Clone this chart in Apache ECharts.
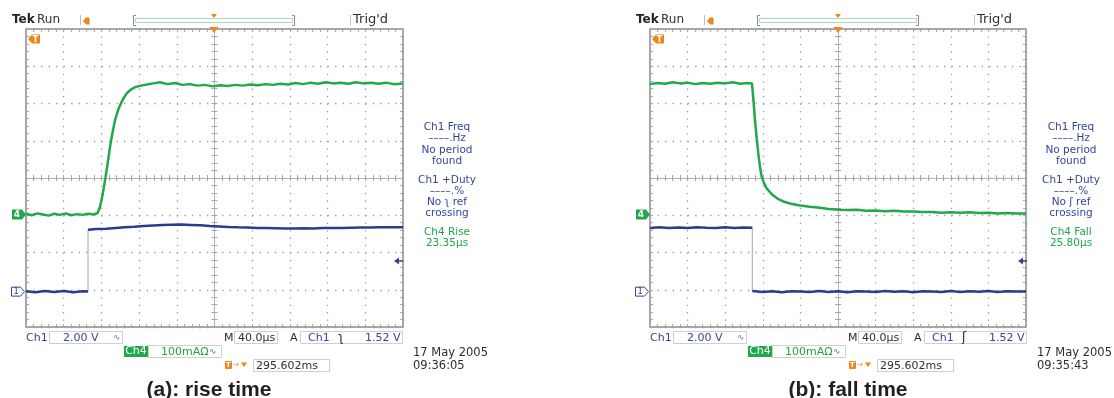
<!DOCTYPE html>
<html>
<head>
<meta charset="utf-8">
<script src="https://cdn.jsdelivr.net/npm/echarts@6/dist/echarts.min.js"></script>
<style>
html,body{margin:0;padding:0;background:#ffffff;}
#chart{width:1114px;height:398px;}
</style>
</head>
<body>
<div id="chart"></div>
<script>
// ---------- scope settings ----------
const timeRangeUs = [-200, 200];      // 40 µs/div, 10 divisions, trigger at centre
const timeDivUs = 40;
const vertRangeDiv = [-4, 4];         // 8 vertical divisions
const ch1VoltsPerDiv = 2.0;           // Ch1 2.00 V
const ch4mAPerDiv = 100;              // Ch4 100 mA
const ch1ZeroDiv = -3.05;             // position of the "1" ground marker
const ch4ZeroDiv = -0.98;             // position of the "4" ground marker

// ---------- (a) rise time ----------
const riseCh4TimeUs = [-200,-194,-188,-182,-176,-170,-164,-158,-152,-146,-140,-134,-128,
  -124,-121.5,-118.8,-116.2,-113.5,-110.9,-108.2,-105.6,-103,-100.3,-97,-93.2,-89,-84.3,-78,-71.9,-65,-57.8,
  -50,-42,-34,-26,-18,-10,-2,6,14,22,30,38,46,54,62,70,78,86,94,102,110,118,126,134,142,150,158,166,174,182,190,200];
const riseCh4mA = [2,-2,3,0,-3,2,-1,3,-2,1,-1,2,0,
  4,20,52,91,135,181,220,252,275,293,310,325,335,342,346,349,352,355,
  350,353,348,350,346,348,344,347,345,348,346,349,347,350,348,351,349,353,350,354,351,355,352,354,351,355,352,354,351,354,350,352];
const riseCh1TimeUs = [-200,-190,-180,-170,-160,-150,-140,-134.2,
  -134.2,-125,-115,-105,-95,-85,-75,-65,-55,-45,-35,-25,-15,-5,
  5,15,25,35,45,55,65,75,85,95,105,115,125,135,145,155,165,175,185,200];
const riseCh1V = [0.02,-0.03,0.03,-0.02,0.03,-0.03,0.02,0,
  3.32,3.36,3.38,3.42,3.46,3.48,3.52,3.55,3.57,3.59,3.6,3.58,3.56,3.52,
  3.5,3.47,3.45,3.44,3.42,3.41,3.4,3.39,3.39,3.4,3.39,3.41,3.42,3.42,3.43,3.44,3.44,3.45,3.45,3.46];

// ---------- (b) fall time ----------
const fallCh4TimeUs = [-200,-192,-184,-176,-168,-160,-152,-144,-136,-128,-120,-112,-104,-96,-91.5,
  -89.9,-88.3,-86.5,-84.8,-83,-81.2,-78.5,-75.9,-72,-68.8,-64,-58.2,-50,-40.4,-30,-19.1,-10,2.1,
  10,20,30,40,50,60,70,80,90,100,110,120,130,140,150,160,170,180,190,200];
const fallCh4mA = [350,353,351,355,352,354,350,353,351,354,352,355,351,353,352,
  305,252,205,164,128,101,83,70,59,51,42,35,29,24,21,18,15,13,
  12,13,10,11,9,10,8,8,7,7,5,6,5,6,4,5,3,4,3,3];
const fallCh1TimeUs = [-200,-190,-180,-170,-160,-150,-140,-130,-120,-110,-100,-91.2,
  -91.2,-80,-70,-60,-50,-40,-30,-20,-10,0,10,20,30,40,50,60,70,80,90,100,110,120,130,140,150,160,170,180,190,200];
const fallCh1V = [3.42,3.45,3.41,3.44,3.42,3.46,3.43,3.41,3.45,3.42,3.44,3.43,
  0.03,-0.02,0.02,-0.03,0.02,0,-0.02,0.03,-0.02,0.02,-0.03,0.02,0,-0.02,0.03,-0.01,0.02,-0.03,0.02,0,
  -0.02,0.03,-0.02,0.02,-0.01,0.03,-0.02,0.02,0,0.01];

// ---------- texts ----------
const panels = [
  { caption: '(a): rise time', captionX: 209, measName: 'Ch4 Rise', measValue: '23.35µs', edgeGlyph: 'ʅ',
    date: '17 May 2005', time: '09:36:05',
    ch4: [riseCh4TimeUs, riseCh4mA], ch1: [riseCh1TimeUs, riseCh1V] },
  { caption: '(b): fall time', captionX: 848, measName: 'Ch4 Fall', measValue: '25.80µs', edgeGlyph: 'ʃ',
    date: '17 May 2005', time: '09:35:43',
    ch4: [fallCh4TimeUs, fallCh4mA], ch1: [fallCh1TimeUs, fallCh1V] }
];
const ch1Scale = '2.00 V', ch4Scale = '100mAΩ', timeScale = '40.0µs', trigLevel = '1.52 V', trigPos = '295.602ms';

// ---------- styles ----------
const GREEN = '#22a84c', BLUE = '#2b3b8f', EDGE_BLUE = '#9aa3d4';
const TXT_BLUE = '#34449c', TXT_GREEN = '#1ea649', ORANGE = '#f0851d', DARK = '#2e2e2e';
const DOT = '#9a9a9a', TICK = '#a8a8a8', CROSS = '#b4b4b4';
const GRIDS = [
  { left: 26, top: 29, width: 377, height: 298 },
  { left: 650, top: 29, width: 376, height: 298 }
];
const PANEL_DX = [0, 624];

const chart = echarts.init(document.getElementById('chart'), null, { renderer: 'canvas' });

function segments(times, vals, zeroDiv, perDiv) {
  const segs = [[]], edges = [];
  for (let i = 0; i < times.length; i++) {
    const y = zeroDiv + vals[i] / perDiv;
    if (i > 0 && times[i] === times[i - 1]) {
      edges.push([[times[i - 1], zeroDiv + vals[i - 1] / perDiv], [times[i], y]]);
      segs.push([]);
    }
    segs[segs.length - 1].push([times[i], y]);
  }
  return { segs, edges };
}

const xAxes = [], yAxes = [], grids = [], series = [];
for (let g = 0; g < 2; g++) {
  grids.push(Object.assign({ show: true, borderColor: '#8c8c8c', borderWidth: 1.5,
    backgroundColor: 'transparent', containLabel: false, outerBoundsMode: 'none' }, GRIDS[g]));
  const tick = { show: true, inside: true, length: 3, lineStyle: { color: TICK, width: 1 } };
  const minor = { show: true, splitNumber: 5, length: 3, lineStyle: { color: TICK, width: 1 } };
  const xb = { gridIndex: g, type: 'value', min: timeRangeUs[0], max: timeRangeUs[1], interval: timeDivUs,
    axisLabel: { show: false }, splitLine: { show: false }, axisTick: tick, minorTick: minor, silent: true };
  const yb = { gridIndex: g, type: 'value', min: vertRangeDiv[0], max: vertRangeDiv[1], interval: 1,
    axisLabel: { show: false }, splitLine: { show: false }, axisTick: tick, minorTick: minor, silent: true };
  xAxes.push(Object.assign({}, xb, { position: 'bottom', axisLine: { show: false, onZero: false },
    splitLine: { show: true, lineStyle: { color: DOT, width: 1.3, type: [1.3, 6.15] } } }));
  xAxes.push(Object.assign({}, xb, { position: 'top', axisLine: { show: false, onZero: false } }));
  xAxes.push(Object.assign({}, xb, { position: 'bottom', axisLine: { show: true, onZero: true, lineStyle: { color: CROSS, width: 1 } } }));
  xAxes.push(Object.assign({}, xb, { position: 'top', axisLine: { show: true, onZero: true, lineStyle: { color: CROSS, width: 1 } } }));
  yAxes.push(Object.assign({}, yb, { position: 'left', axisLine: { show: false, onZero: false },
    splitLine: { show: true, lineStyle: { color: DOT, width: 1.3, type: [1.3, 6.24] } } }));
  yAxes.push(Object.assign({}, yb, { position: 'right', axisLine: { show: false, onZero: false } }));
  yAxes.push(Object.assign({}, yb, { position: 'left', axisLine: { show: true, onZero: true, lineStyle: { color: CROSS, width: 1 } } }));
  yAxes.push(Object.assign({}, yb, { position: 'right', axisLine: { show: true, onZero: true, lineStyle: { color: CROSS, width: 1 } } }));

  const p = panels[g];
  const ai = g * 4;
  const c1 = segments(p.ch1[0], p.ch1[1], ch1ZeroDiv, ch1VoltsPerDiv);
  c1.edges.forEach(e => series.push({ type: 'line', xAxisIndex: ai, yAxisIndex: ai, data: e, showSymbol: false,
    silent: true, lineStyle: { color: EDGE_BLUE, width: 1 }, z: 3 }));
  c1.segs.forEach(s => series.push({ type: 'line', xAxisIndex: ai, yAxisIndex: ai, data: s, showSymbol: false,
    silent: true, lineStyle: { color: BLUE, width: 2.5 }, z: 4 }));
  const c4 = segments(p.ch4[0], p.ch4[1], ch4ZeroDiv, ch4mAPerDiv);
  c4.segs.forEach(s => series.push({ type: 'line', xAxisIndex: ai, yAxisIndex: ai, data: s, showSymbol: false,
    silent: true, lineStyle: { color: GREEN, width: 2.5 }, z: 5 }));
}

chart.setOption({
  animation: false,
  backgroundColor: '#ffffff',
  grid: grids, xAxis: xAxes, yAxis: yAxes, series: series
});

// ---------- annotations ----------
function buildGraphics(g) {
  const dx = PANEL_DX[g], p = panels[g], els = [];
  const F = '"DejaVu Sans", Verdana, sans-serif';
  const txt = (x, y, text, o) => {
    o = o || {};
    els.push({ type: 'text', silent: true, z: 100, style: {
      x: x + dx, y: y, text: text, fill: o.fill || TXT_BLUE, font: o.font || ('11px ' + F),
      align: o.align || 'left', verticalAlign: 'middle', textAlign: o.align || 'left', textVerticalAlign: 'middle' } });
  };
  const line = (x1, y1, x2, y2, color, w) => els.push({ type: 'line', silent: true, z: 100,
    shape: { x1: x1 + dx, y1: y1, x2: x2 + dx, y2: y2 }, style: { stroke: color, lineWidth: w || 1 } });
  const poly = (pts, fill, stroke) => els.push({ type: 'polygon', silent: true, z: 100,
    shape: { points: pts.map(q => [q[0] + dx, q[1]]) }, style: { fill: fill || 'none', stroke: stroke || null, lineWidth: 1 } });
  const rect = (x, y, w, h, fill, stroke, r) => els.push({ type: 'rect', silent: true, z: 99,
    shape: { x: x + dx, y: y, width: w, height: h, r: r || 0 }, style: { fill: fill || 'none', stroke: stroke || null, lineWidth: 1 } });
  const polyline = (pts, stroke) => els.push({ type: 'polyline', silent: true, z: 100,
    shape: { points: pts.map(q => [q[0] + dx, q[1]]) }, style: { stroke: stroke, fill: 'none', lineWidth: 1 } });

  // header
  txt(12, 20, 'Tek', { font: 'bold 12px ' + F, fill: '#222' });
  txt(37, 20, 'Run', { font: '12px ' + F, fill: DARK });
  line(80.5, 15, 80.5, 25, '#c0c0c0');
  poly([[83, 21], [86, 17.5], [89.5, 17.5], [89.5, 24.5], [86, 24.5]], ORANGE);
  polyline([[136, 15.5], [133.5, 15.5], [133.5, 25.5], [136, 25.5]], '#8a8a8a');
  polyline([[292, 15.5], [294.5, 15.5], [294.5, 25.5], [292, 25.5]], '#8a8a8a');
  rect(135.5, 18.5, 157, 4, null, '#a9dcb6');
  poly([[211, 14], [217, 14], [214, 18]], ORANGE);
  line(350.5, 15, 350.5, 25, '#c0c0c0');
  txt(353, 20, "Trig'd", { font: '13px ' + F, fill: DARK });

  // plot decorations
  poly([[28, 39], [32, 34.5], [40, 34.5], [40, 43.5], [32, 43.5]], ORANGE);
  txt(35.5, 39.5, 'T', { font: 'bold 8px ' + F, fill: '#ffffff', align: 'center' });
  poly([[209.5, 27], [218.5, 27], [214, 33]], ORANGE);
  poly([[394, 261], [399, 257.5], [399, 264.5]], TXT_BLUE);
  line(398, 261, 403, 261, TXT_BLUE, 1.5);

  // channel ground markers
  const ai = g * 4;
  const y4 = chart.convertToPixel({ xAxisIndex: ai, yAxisIndex: ai }, [timeRangeUs[0], ch4ZeroDiv])[1];
  const y1 = chart.convertToPixel({ xAxisIndex: ai, yAxisIndex: ai }, [timeRangeUs[0], ch1ZeroDiv])[1];
  poly([[12, y4 - 5], [22, y4 - 5], [26, y4], [22, y4 + 5], [12, y4 + 5]], '#22a84c');
  txt(17, y4 + 0.5, '4', { font: 'bold 9px ' + F, fill: '#ffffff', align: 'center' });
  poly([[11.5, y1 - 4.5], [20.5, y1 - 4.5], [24.5, y1], [20.5, y1 + 4.5], [11.5, y1 + 4.5]], '#ffffff', TXT_BLUE);
  txt(16, y1 + 0.5, '1', { font: '9px ' + F, fill: TXT_BLUE, align: 'center' });

  // measurement column
  const mx = 447, mf = '10.5px ' + F;
  [['Ch1 Freq', 127, TXT_BLUE], ['––––.Hz', 138, TXT_BLUE], ['No period', 150, TXT_BLUE], ['found', 161, TXT_BLUE],
   ['Ch1 +Duty', 180, TXT_BLUE], ['––––.%', 191, TXT_BLUE], ['No ' + p.edgeGlyph + ' ref', 202, TXT_BLUE],
   ['crossing', 213, TXT_BLUE], [p.measName, 232, TXT_GREEN], [p.measValue, 243, TXT_GREEN]]
    .forEach(r => txt(mx, r[1], r[0], { font: mf, fill: r[2], align: 'center' }));

  // bottom readouts, row 1
  txt(26, 338, 'Ch1');
  rect(49.5, 331.5, 73, 12, null, '#cfcfcf');
  txt(63, 338, ch1Scale);
  txt(113, 338, '∿', { font: '9px ' + F, fill: '#6d79bb' });
  txt(224, 338, 'M', { fill: DARK });
  rect(234.5, 331.5, 43, 12, null, '#cfcfcf');
  txt(238, 338, timeScale, { fill: DARK });
  txt(290, 338, 'A', { fill: DARK });
  rect(300.5, 331.5, 102, 12, null, '#cfcfcf');
  txt(308, 338, 'Ch1');
  txt(338, 338, p.edgeGlyph, { font: '12px ' + F, fill: '#222' });
  txt(365, 338, trigLevel);
  // row 2
  rect(124, 346, 24, 11, '#22a84c', null);
  txt(136, 351.5, 'Ch4', { fill: '#ffffff', align: 'center' });
  rect(148.5, 345.5, 73, 12, null, '#cfcfcf');
  txt(161, 352, ch4Scale, { fill: TXT_GREEN });
  txt(209, 352, '∿', { font: '9px ' + F, fill: TXT_GREEN });
  txt(413, 353, p.date, { font: '11.5px ' + F, fill: DARK });
  // row 3
  rect(225, 361, 7, 8, ORANGE, null, 1);
  txt(228.5, 365.5, 'T', { font: 'bold 7px ' + F, fill: '#ffffff', align: 'center' });
  txt(232.5, 365, '→', { font: '8px ' + F, fill: ORANGE });
  poly([[241, 362.5], [247, 362.5], [244, 367]], ORANGE);
  rect(253.5, 359.5, 76, 12, null, '#cfcfcf');
  txt(256, 366, trigPos, { fill: DARK });
  txt(413, 366, p.time, { font: '11.5px ' + F, fill: DARK });

  // caption (absolute position)
  txt(p.captionX - dx, 390, p.caption, { font: 'bold 21px "Liberation Sans", Arial, sans-serif', fill: '#231f20', align: 'center' });
  return els;
}

chart.setOption({ graphic: { elements: buildGraphics(0).concat(buildGraphics(1)) } });
</script>
</body>
</html>
